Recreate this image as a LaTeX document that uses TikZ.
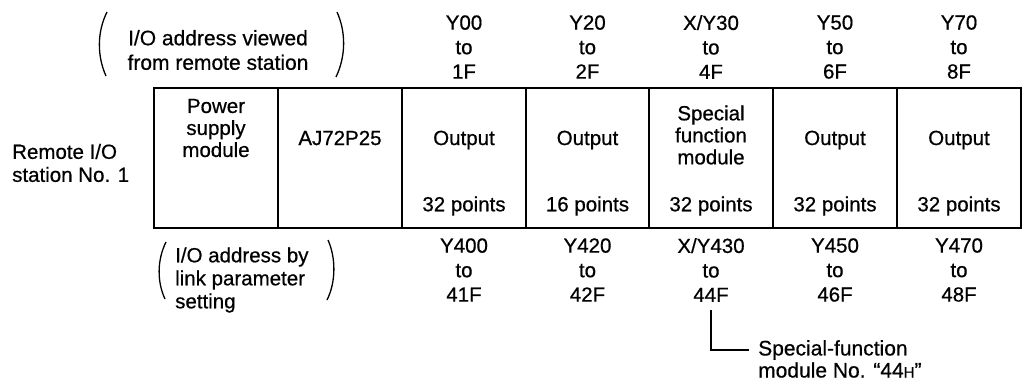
\documentclass[tikz,border=0pt]{standalone}
\usepackage{fontspec}
\setmainfont{Liberation Sans}[BoldFont=Liberation Sans, BoldFeatures={FakeBold=0.6}]
\begin{document}
\begin{tikzpicture}[x=1pt,y=-1pt,
  every node/.style={font=\fontsize{20.5}{24.5}\selectfont\bfseries, inner sep=3pt},
  cell/.style={draw, line width=1.5pt, minimum width=124pt, minimum height=140pt, inner sep=0pt},
  addr/.style={align=center},
  celltxt/.style={align=center, font=\fontsize{20.5}{22}\selectfont\bfseries},
  notetxt/.style={anchor=west, font=\fontsize{21}{22}\selectfont\bfseries},
  paren/.style={line width=1.3pt}
]
\useasboundingbox (0,0) rectangle (1024,381);

% cells
\foreach \i/\x in {1/216,2/340,3/464,4/587.5,5/711,6/835,7/959}{
  \node[cell] (c\i) at (\x,158) {};
}

% left label
\node[anchor=west, align=left, font=\fontsize{20.5}{23}\selectfont\bfseries] (lbl) at (9,163) {Remote I/O\\station No. 1};

% top bracketed text
\node[align=center, font=\fontsize{21}{24.5}\selectfont\bfseries] (tp) at (218,50) {I/O address viewed\\from remote station};
\draw[paren] (107,12) .. controls (97,32) and (97,56) .. (106,76);
\draw[paren] (337,12) .. controls (346,32) and (346,56) .. (336,77);

% top addresses
\node[addr] (t3) at (464,47) {Y00\\to\\1F};
\node[addr] (t4) at (587.5,47) {Y20\\to\\2F};
\node[addr] (t5) at (711,47) {X/Y30\\to\\4F};
\node[addr] (t6) at (835,47) {Y50\\to\\6F};
\node[addr] (t7) at (959,47) {Y70\\to\\8F};

% cell contents
\node[celltxt] (p1) at (216,128) {Power\\supply\\module};
\node[celltxt] (p2) at (340,138) {AJ72P25};
\node[celltxt] (o3) at (464,140) {Output};
\node[celltxt] (o4) at (587.5,140) {Output};
\node[celltxt] (o5) at (711,135) {Special\\function\\module};
\node[celltxt] (o6) at (835,140) {Output};
\node[celltxt] (o7) at (959,140) {Output};
\node[celltxt] (n3) at (464,206) {32 points};
\node[celltxt] (n4) at (587.5,206) {16 points};
\node[celltxt] (n5) at (711,206) {32 points};
\node[celltxt] (n6) at (835,206) {32 points};
\node[celltxt] (n7) at (959,206) {32 points};

% bottom bracketed text
\node[anchor=west, align=left, font=\fontsize{20.5}{23}\selectfont\bfseries] (bp) at (172,280) {I/O address by\\link parameter\\setting};
\draw[paren] (166,242) .. controls (157,260) and (157,282) .. (165,299);
\draw[paren] (328,240) .. controls (336,258) and (336,282) .. (327,300);

% bottom addresses
\node[addr] (b3) at (464,270) {Y400\\to\\41F};
\node[addr] (b4) at (587.5,270) {Y420\\to\\42F};
\node[addr] (b5) at (711,270) {X/Y430\\to\\44F};
\node[addr] (b6) at (835,270) {Y450\\to\\46F};
\node[addr] (b7) at (959,270) {Y470\\to\\48F};

% special function note
\node[notetxt] (sf1) at (755,350) {Special-function};
\node[notetxt] (sf2) at (755,370) {module No. “44{\fontsize{15}{15}\selectfont H}”};
\draw[line width=1.3pt, shorten >=6pt] ([yshift=-5pt]b5.south) |- (sf1.west);
\end{tikzpicture}
\end{document}
